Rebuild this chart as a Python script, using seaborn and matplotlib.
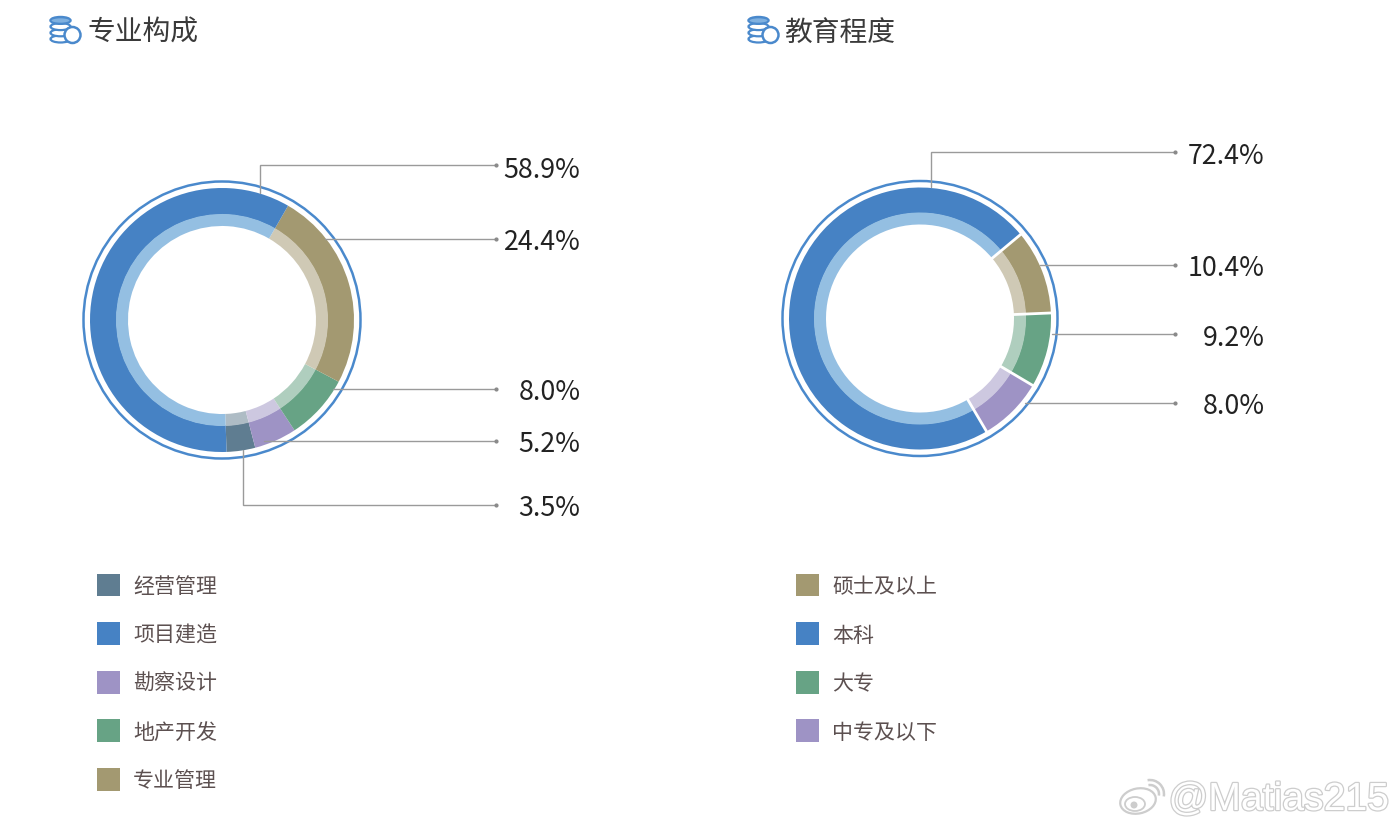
import matplotlib
matplotlib.use("Agg")
import matplotlib.pyplot as plt
import matplotlib.patheffects as pe
from matplotlib.patches import Arc, Circle, Ellipse
import numpy as np
import seaborn as sns

# ----- Data -----
left_title = "专业构成"
left_names = ["经营管理", "项目建造", "勘察设计", "地产开发", "专业管理"]
left_values = [3.5, 58.9, 5.2, 8.0, 24.4]

right_title = "教育程度"
right_names = ["硕士及以上", "本科", "大专", "中专及以下"]
right_values = [10.4, 72.4, 9.2, 8.0]

GREY, BLUE, PURPLE, GREEN, BROWN = "#5F7D91", "#4682C4", "#9E93C5", "#67A385", "#A39971"
left_colors = [GREY, BLUE, PURPLE, GREEN, BROWN]
left_pale = ["#AEBCC5", "#94BFE2", "#CDC8E0", "#AFCEBE", "#CFC9B5"]
right_colors = [BROWN, BLUE, GREEN, PURPLE]
right_pale = ["#CFC9B5", "#94BFE2", "#AFCEBE", "#CDC8E0"]

# ring order (counter-clockwise from the start angle)
left_ring = [0, 2, 3, 4, 1]
right_ring = [3, 2, 0, 1]

sns.set_theme(style="white")
plt.rcParams["font.family"] = ["Noto Sans CJK SC", "DejaVu Sans"]

fig = plt.figure(figsize=(14, 8.3), dpi=100)
ax = fig.add_axes([0, 0, 1, 1])


def py(y):
    # the layout was measured from the top of the picture
    return 830 - y


def donut(values, colors, pale, order, cx, cy, r, start, gap):
    vals = [values[i] for i in order]
    ax.pie(vals, colors=[colors[i] for i in order], startangle=start, radius=r, center=(cx, py(cy)),
           wedgeprops=dict(width=r - 105.5, edgecolor="none"))
    ax.pie(vals, colors=[pale[i] for i in order], startangle=start, radius=106, center=(cx, py(cy)),
           wedgeprops=dict(width=12, edgecolor="none"))
    if gap:
        # white cuts between slices, only across the ring
        shares = np.cumsum(vals) / np.sum(vals)
        for a in np.radians(start + shares * 360):
            ax.plot([cx + 93 * np.cos(a), cx + (r + 1) * np.cos(a)],
                    [py(cy) + 93 * np.sin(a), py(cy) + (r + 1) * np.sin(a)],
                    color="white", lw=gap, zorder=3)
    ax.add_patch(Circle((cx, py(cy)), r + 6.5, fill=False, ec="#4A89CC", lw=1.8))


def leader(points, text, text_x, text_y):
    xs = [p[0] for p in points]
    ys = [py(p[1]) for p in points]
    ax.plot(xs, ys, color="#9A9A9A", lw=1.0, solid_joinstyle="miter", zorder=4)
    ax.plot(xs[-1], ys[-1], "o", color="#8A8A8A", ms=2.0, zorder=4)
    ax.text(text_x, py(text_y), text, ha="right", va="center", fontsize=19.3, color="#222222")


def icon(x, y):
    for i in range(4):
        ax.add_patch(Ellipse((x + 10.5, py(y + 22 - i * 6.2)), 20, 7, fc="white", ec="#4A89CC", lw=1.6, zorder=5))
    ax.add_patch(Ellipse((x + 10.5, py(y + 3.5)), 20, 6, fc="#7FB0DF", ec="#4A89CC", lw=1.2, zorder=5))
    ax.add_patch(Circle((x + 22.5, py(y + 18)), 8, fc="white", ec="#4A89CC", lw=1.8, zorder=6))


def legend(names, colors, x, y_top):
    ys = py(y_top + np.arange(len(names)) * 48.6)
    sns.scatterplot(x=[x] * len(names), y=ys, hue=names, hue_order=names, palette=colors,
                    marker="s", s=270, linewidth=0, legend=False, ax=ax)
    for name, y in zip(names, ys):
        ax.text(x + 24.5, y - 2, name, ha="left", va="center", fontsize=15.1, color="#5C5050")


# ----- Left chart -----
donut(left_values, left_colors, left_pale, left_ring, 222, 320, 132, 272, 0)

left_labels = [f"{v:.1f}%" for v in left_values]
leader([(260, 193), (260, 165), (496, 165)], left_labels[1], 580.5, 170)
leader([(325, 239), (496, 239)], left_labels[4], 580.5, 242)
leader([(333, 389), (496, 389)], left_labels[3], 580.5, 392)
leader([(264, 441.5), (496, 441.5)], left_labels[2], 580.5, 444)
leader([(243, 450), (243, 505.5), (496, 505.5)], left_labels[0], 580.5, 508)

# ----- Right chart -----
donut(right_values, right_colors, right_pale, right_ring, 920, 318.5, 131, 300.5, 2.0)

right_labels = [f"{v:.1f}%" for v in right_values]
leader([(931, 187), (931, 152), (1175, 152)], right_labels[1], 1264.5, 156)
leader([(1040, 265), (1175, 265)], right_labels[0], 1264.5, 269)
leader([(1052, 334), (1175, 334)], right_labels[2], 1264.5, 338)
leader([(1025, 403.5), (1175, 403.5)], right_labels[3], 1264.5, 407)

# ----- Titles and legends -----
icon(50, 17)
icon(748, 17)
ax.text(87.5, py(33), left_title, ha="left", va="center", fontsize=20, color="#3A3A3A")
ax.text(784.5, py(33), right_title, ha="left", va="center", fontsize=20, color="#3A3A3A")

legend(left_names, left_colors, 108.5, 585)
legend(right_names, right_colors, 807.5, 585)

# ----- Watermark -----
soft = "#CDCDCD"
stroke = [pe.withStroke(linewidth=1.8, foreground=soft)]
ax.text(1168.5, py(800), "@Matias215", ha="left", va="center", fontsize=28.2, color="white",
        family="Liberation Sans", path_effects=stroke, zorder=7)
ax.add_patch(Ellipse((1138, py(801)), 36, 25, angle=12, fc="white", ec=soft, lw=1.6, zorder=7))
ax.add_patch(Ellipse((1135, py(804)), 20, 14, fc="white", ec=soft, lw=1.3, zorder=7))
ax.add_patch(Circle((1134, py(805)), 3.5, fc=soft, ec="none", zorder=7))
ax.add_patch(Arc((1150, py(794)), 18, 18, theta1=-10, theta2=100, ec=soft, lw=1.8, zorder=7))
ax.add_patch(Arc((1150, py(794)), 28, 28, theta1=-10, theta2=100, ec=soft, lw=1.8, zorder=7))

ax.set_xlim(0, 1400)
ax.set_ylim(0, 830)
ax.set_aspect("equal")
ax.axis("off")

fig.savefig("out.png", dpi=100, facecolor="white")
